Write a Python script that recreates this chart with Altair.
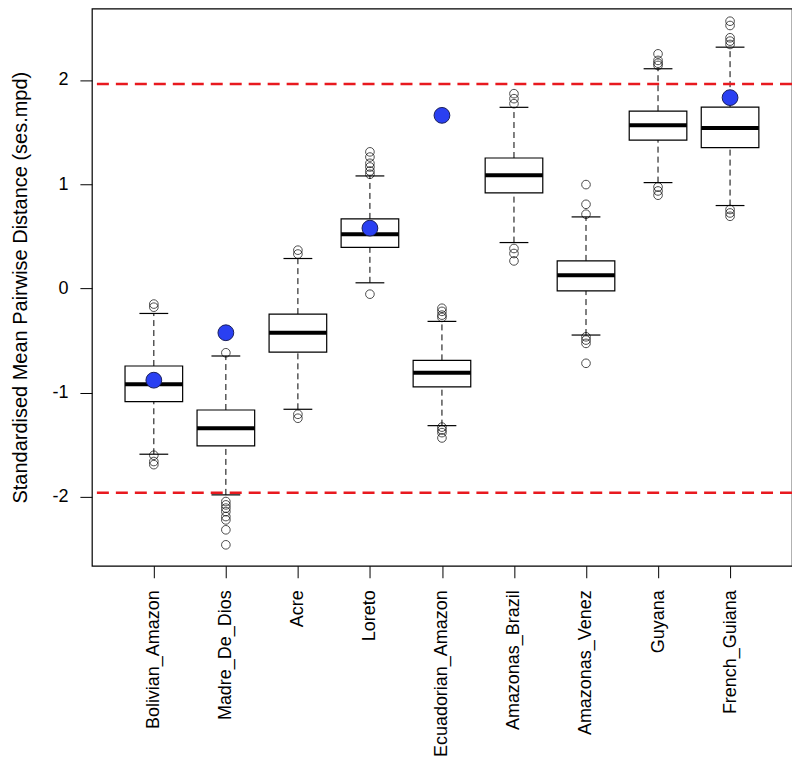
import altair as alt
import pandas as pd

categories = ["Bolivian_Amazon", "Madre_De_Dios", "Acre", "Loreto", "Ecuadorian_Amazon",
              "Amazonas_Brazil", "Amazonas_Venez", "Guyana", "French_Guiana"]
q1 = [-1.086, -1.51, -0.61, 0.393, -0.945, 0.916, -0.023, 1.423, 1.35]
median = [-0.92, -1.341, -0.425, 0.52, -0.808, 1.085, 0.127, 1.564, 1.538]
q3 = [-0.744, -1.166, -0.246, 0.667, -0.69, 1.251, 0.264, 1.70, 1.739]
whisker_lo = [-1.59, -1.98, -1.159, 0.054, -1.316, 0.44, -0.447, 1.015, 0.795]
whisker_hi = [-0.24, -0.648, 0.287, 1.079, -0.316, 1.737, 0.686, 2.107, 2.314]
outliers = [
    [-0.15, -0.18, -1.60, -1.66, -1.69],
    [-0.617, -2.044, -2.076, -2.107, -2.14, -2.188, -2.22, -2.315, -2.459],
    [0.367, 0.33, -1.207, -1.245],
    [1.31, 1.26, 1.20, 1.165, 1.126, 1.095, -0.055],
    [-0.19, -0.22, -0.256, -0.278, -1.33, -1.357, -1.383, -1.434],
    [1.868, 1.82, 1.772, 0.383, 0.335, 0.264],
    [0.996, 0.807, 0.712, -0.464, -0.495, -0.527, -0.718],
    [2.25, 2.187, 2.16, 2.139, 0.973, 0.935, 0.894],
    [2.563, 2.522, 2.404, 2.372, 2.34, 0.757, 0.724, 0.692],
]
observed = [-0.88, -0.425, None, 0.578, 1.66, None, None, None, 1.83]
thresholds = [1.96, -1.96]
y_ticks = [-2, -1, 0, 1, 2]

FONT = "Liberation Sans"

box_df = pd.DataFrame({
    "pos": list(range(1, len(categories) + 1)),
    "cat": categories,
    "q1": q1, "median": median, "q3": q3, "lo": whisker_lo, "hi": whisker_hi,
})
out_df = pd.DataFrame([
    {"pos": i + 1, "value": v} for i, vals in enumerate(outliers) for v in vals
])
obs_df = pd.DataFrame([
    {"pos": i + 1, "value": v} for i, v in enumerate(observed) if v is not None
])
thr_df = pd.DataFrame({"y": thresholds})

label_array = "[" + ",".join("'" + c + "'" for c in categories) + "]"

xscale = alt.Scale(domain=[0.14, 9.86], nice=False, zero=False)
yscale = alt.Scale(domain=[-2.66, 2.685], nice=False, zero=False)

x_axis = alt.Axis(
    values=list(range(1, len(categories) + 1)),
    labelExpr=label_array + "[datum.value - 1]",
    labelAngle=-90, labelAlign="right", labelBaseline="middle",
    tickSize=12, labelPadding=12, labelFontSize=18, labelFont=FONT,
    labelColor="black", tickColor="black", domain=False, grid=False, title=None,
)
y_axis = alt.Axis(
    values=y_ticks, labelExpr="'' + datum.value", tickSize=12, labelPadding=12,
    labelFontSize=18, labelFont=FONT, labelColor="black", tickColor="black",
    domain=False, grid=False,
    title="Standardised Mean Pairwise Distance (ses.mpd)", titleFont=FONT,
    titleFontSize=20, titleFontWeight="normal", titleColor="black", titlePadding=21,
)

base = alt.Chart(box_df).transform_calculate(
    left="datum.pos - 0.4", right="datum.pos + 0.4",
    cl="datum.pos - 0.2", cr="datum.pos + 0.2",
)

axes_layer = base.mark_point(opacity=0).encode(
    x=alt.X("pos:Q", scale=xscale, axis=x_axis),
    y=alt.Y("median:Q", scale=yscale, axis=y_axis),
)

whisk_up = base.mark_rule(color="black", strokeWidth=1, strokeDash=[6, 4]).encode(
    x=alt.X("pos:Q", scale=xscale), y=alt.Y("q3:Q", scale=yscale), y2="hi:Q")
whisk_dn = base.mark_rule(color="black", strokeWidth=1, strokeDash=[6, 4]).encode(
    x=alt.X("pos:Q", scale=xscale), y=alt.Y("lo:Q", scale=yscale), y2="q1:Q")
cap_hi = base.mark_rule(color="black", strokeWidth=1.2).encode(
    x=alt.X("cl:Q", scale=xscale), x2="cr:Q", y=alt.Y("hi:Q", scale=yscale))
cap_lo = base.mark_rule(color="black", strokeWidth=1.2).encode(
    x=alt.X("cl:Q", scale=xscale), x2="cr:Q", y=alt.Y("lo:Q", scale=yscale))
boxes = base.mark_rect(fill="white", stroke="black", strokeWidth=1.2).encode(
    x=alt.X("left:Q", scale=xscale), x2="right:Q",
    y=alt.Y("q1:Q", scale=yscale), y2="q3:Q")
medians = base.mark_rule(color="black", strokeWidth=4).encode(
    x=alt.X("left:Q", scale=xscale), x2="right:Q", y=alt.Y("median:Q", scale=yscale))

outs = alt.Chart(out_df).mark_point(
    shape="circle", filled=False, color="black", strokeWidth=1, size=75
).encode(x=alt.X("pos:Q", scale=xscale), y=alt.Y("value:Q", scale=yscale))

thr = alt.Chart(thr_df).mark_rule(color="#e8191f", strokeWidth=2.5, strokeDash=[12, 7]).encode(
    y=alt.Y("y:Q", scale=yscale))

obs = alt.Chart(obs_df).mark_point(
    shape="circle", filled=True, fill="#2a40f2", stroke="#1a1f5a", strokeWidth=1,
    size=250, opacity=1
).encode(x=alt.X("pos:Q", scale=xscale), y=alt.Y("value:Q", scale=yscale))

chart = alt.layer(
    axes_layer, whisk_up, whisk_dn, cap_hi, cap_lo, boxes, medians, outs, thr, obs
).properties(
    width=701, height=558,
    padding={"left": 84, "top": 0, "right": 0, "bottom": 206},
    autosize=alt.AutoSizeParams(type="none"),
    background="white",
).configure_view(stroke="black", strokeWidth=1.2)

chart.save("out.html", embed_options={"renderer": "svg", "actions": False})
